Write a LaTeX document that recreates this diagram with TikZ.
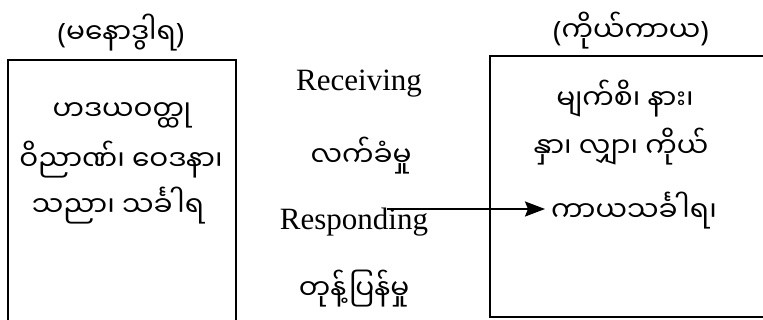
\documentclass[tikz,border=0pt]{standalone}
\usepackage{fontspec}
\setmainfont{Liberation Serif}
\newfontfamily\mya[Script=Myanmar]{Noto Sans Myanmar UI}
\newfontfamily\parenfont{Noto Sans}
\usetikzlibrary{arrows.meta}
\tikzset{
  myatext/.style={inner sep=0pt,font=\fontsize{14}{16}\selectfont\mya},
  engtext/.style={inner sep=0pt,font=\fontsize{15.5}{18}\selectfont},
  frame/.style={line width=1pt}
}
\newcommand{\inparen}[1]{{\parenfont(}#1{\parenfont)}}
\begin{document}
\begin{tikzpicture}[x=0.5pt,y=-0.5pt]
\clip (0,0) rectangle (763,320);

% two doors
\draw[frame] (8,60) rectangle (236,345);
\draw[frame] (490,56) rectangle (800,317);

\node[myatext] (mind) at (121,33) {\inparen{မနောဒွါရ}};
\node[myatext] (body) at (631,31) {\inparen{ကိုယ်ကာယ}};

% mind door
\node[myatext] (ma) at (122,115) {ဟဒယဝတ္ထု};
\node[myatext] (mb) at (121,160) {ဝိညာဏ်၊ ဝေဒနာ၊};
\node[myatext] (mc) at (118,206) {သညာ၊ သင်္ခါရ};

% body door
\node[myatext] (ba) at (625,99) {မျက်စိ၊ နား၊};
\node[myatext] (bb) at (621,147) {နှာ၊ လျှာ၊ ကိုယ်};
\node[myatext] (bc) at (634,211) {ကာယသင်္ခါရ၊};

% in between
\node[engtext] (recv) at (359,84) {Receiving};
\node[myatext] (recvm) at (361,156) {လက်ခံမှု};
\node[engtext] (resp) at (354,222) {Responding};
\node[myatext] (respm) at (354,289) {တုန့်ပြန်မှု};

\coordinate (from) at (387,209);
\coordinate (to) at (545,209);
\draw[line width=1pt,-{Stealth[length=10pt,width=7.5pt,inset=1.5pt]}] (from) -- (to);
\end{tikzpicture}
\end{document}
